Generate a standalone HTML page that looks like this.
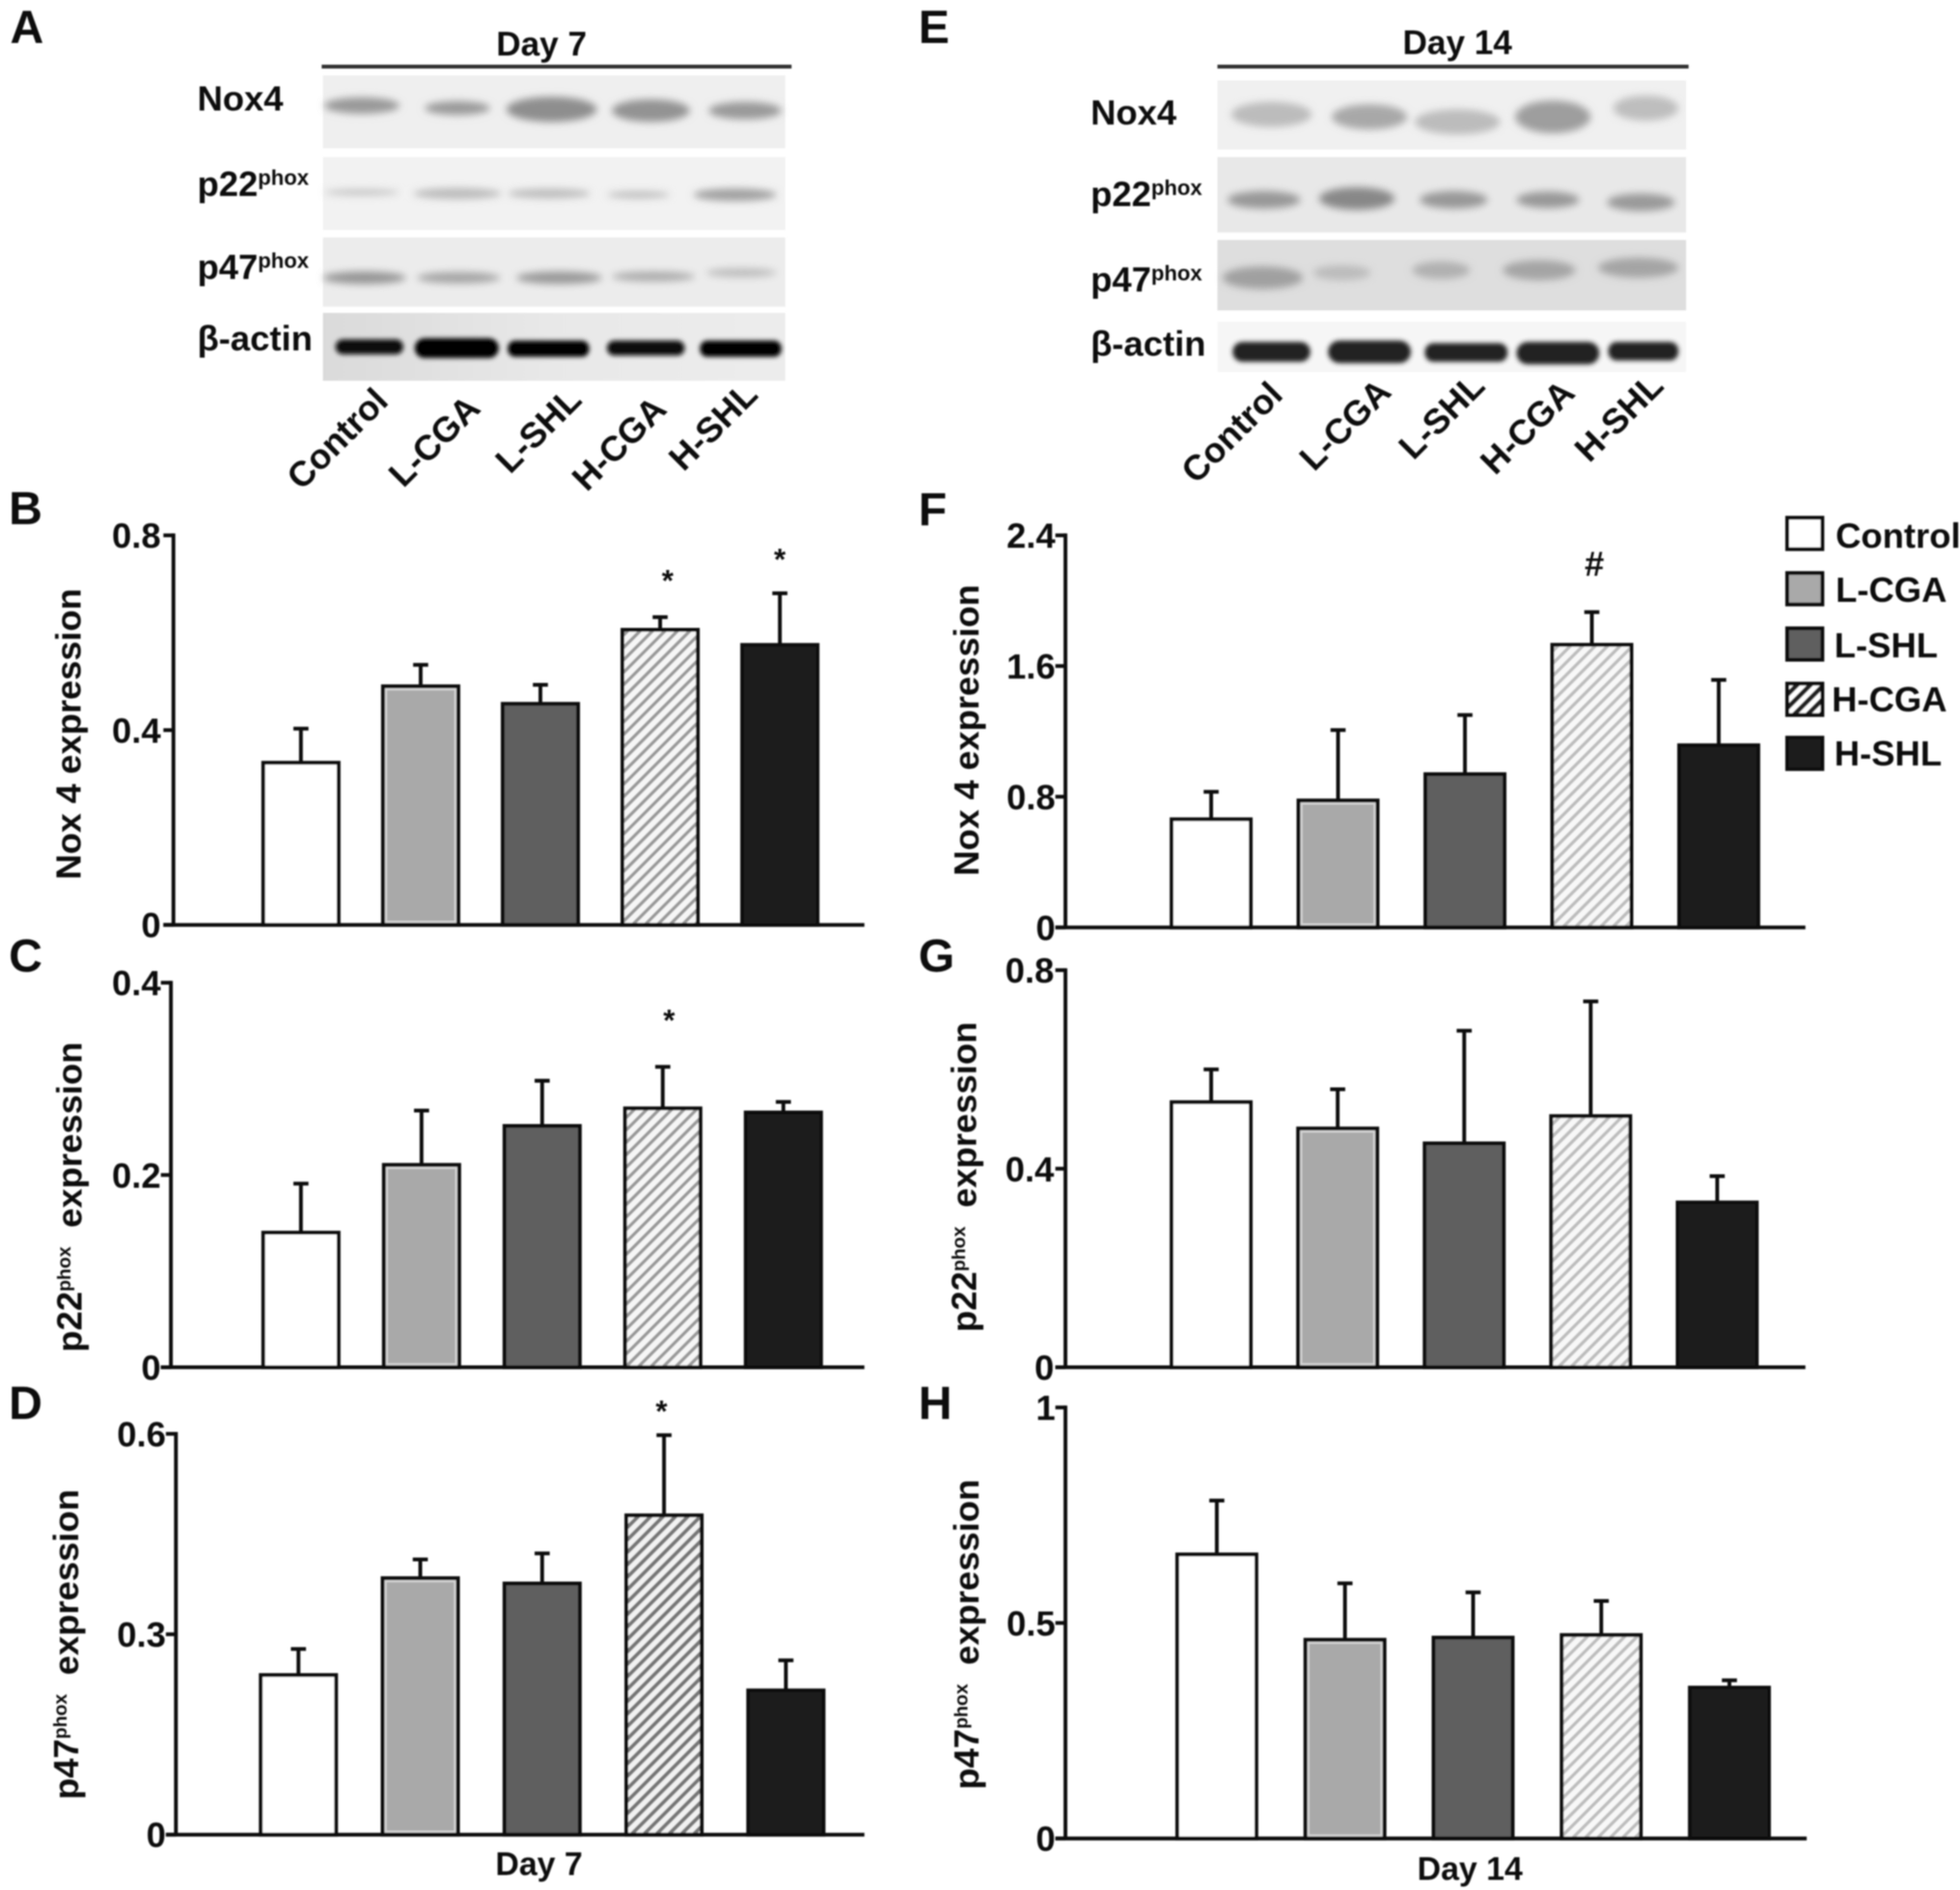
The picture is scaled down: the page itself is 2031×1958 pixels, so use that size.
<!DOCTYPE html>
<html lang="en">
<head>
<meta charset="utf-8">
<title>Nox4, p22phox and p47phox expression</title>
<style>
html,body{margin:0;padding:0;background:#fff;width:2031px;height:1958px;overflow:hidden}
svg{display:block}
text{font-family:"Liberation Sans",Arial,sans-serif;font-weight:700;fill:#111}
</style>
</head>
<body>
<svg id="figure" xmlns="http://www.w3.org/2000/svg" width="2031" height="1958" viewBox="0 0 1560 1504">
<defs>
  <filter id="soft" filterUnits="userSpaceOnUse" x="0" y="0" width="1560" height="1504"><feGaussianBlur stdDeviation="0.55"/></filter>
  <filter id="band" x="-40%" y="-100%" width="180%" height="300%"><feGaussianBlur stdDeviation="3"/></filter>
  <filter id="bandSharp" x="-30%" y="-80%" width="160%" height="260%"><feGaussianBlur stdDeviation="1.8"/></filter>
  <pattern id="hatch" patternUnits="userSpaceOnUse" width="7" height="7" patternTransform="rotate(45)"><rect width="7" height="7" fill="#f6f6f6"/><rect width="2.6" height="7" fill="#9a9a9a"/></pattern>
  <pattern id="hatchLight" patternUnits="userSpaceOnUse" width="7" height="7" patternTransform="rotate(45)"><rect width="7" height="7" fill="#f8f8f8"/><rect width="2.6" height="7" fill="#bdbdbd"/></pattern>
  <pattern id="hatchDark" patternUnits="userSpaceOnUse" width="7" height="7" patternTransform="rotate(45)"><rect width="7" height="7" fill="#f2f2f2"/><rect width="3" height="7" fill="#777"/></pattern>
  <pattern id="hatchLegend" patternUnits="userSpaceOnUse" width="7.5" height="7.5" patternTransform="rotate(45)"><rect width="7.5" height="7.5" fill="#fff"/><rect width="3.6" height="7.5" fill="#222"/></pattern>
  <linearGradient id="actinBg" x1="0" x2="1" y1="0" y2="0"><stop offset="0" stop-color="#dadada"/><stop offset=".5" stop-color="#e8e8e8"/><stop offset="1" stop-color="#ececec"/></linearGradient>
</defs>
<rect width="1560" height="1504" fill="#fff"/>
<g id="root" filter="url(#soft)">

  <g>
    <text x="8" y="34" style="font-size:37px">A</text>
    <text x="731" y="34" style="font-size:37px">E</text>
    <text x="7" y="417" style="font-size:37px">B</text>
    <text x="7" y="773" style="font-size:37px">C</text>
    <text x="7" y="1129" style="font-size:37px">D</text>
    <text x="731" y="418" style="font-size:37px">F</text>
    <text x="731" y="773" style="font-size:37px">G</text>
    <text x="731" y="1129" style="font-size:37px">H</text>
  </g>

  <g>
    <text x="431" y="44" text-anchor="middle" style="font-size:27px">Day 7</text>
    <line x1="256" y1="53" x2="630" y2="53" stroke="#333" stroke-width="3"/>
    <rect x="257" y="60" width="368" height="58" fill="#efefef"/>
    <rect x="257" y="125" width="368" height="58" fill="#f2f2f2"/>
    <rect x="257" y="189" width="368" height="55" fill="#ececec"/>
    <rect x="257" y="249" width="368" height="54" fill="url(#actinBg)"/>
    <g filter="url(#band)">
      <ellipse cx="288" cy="84" rx="30" ry="6.5" fill="#999"/><ellipse cx="364" cy="86" rx="26" ry="5.5" fill="#9a9a9a"/><ellipse cx="439" cy="87" rx="36" ry="10" fill="#8e8e8e"/><ellipse cx="518" cy="88" rx="31" ry="9" fill="#939393"/><ellipse cx="593" cy="88" rx="29" ry="7" fill="#9a9a9a"/>
    </g>
    <g filter="url(#band)">
      <ellipse cx="288" cy="153" rx="30" ry="2.5" fill="#c4c4c4"/><ellipse cx="364" cy="154" rx="35" ry="4.5" fill="#bcbcbc"/><ellipse cx="437" cy="154" rx="33" ry="4" fill="#bebebe"/><ellipse cx="508" cy="155" rx="25" ry="3" fill="#c0c0c0"/><ellipse cx="585" cy="155" rx="33" ry="5" fill="#a0a0a0"/>
    </g>
    <g filter="url(#band)">
      <ellipse cx="290" cy="221" rx="33" ry="5" fill="#959595"/><ellipse cx="365" cy="221" rx="33" ry="4.5" fill="#a4a4a4"/><ellipse cx="445" cy="221" rx="34" ry="5" fill="#999"/><ellipse cx="520" cy="220" rx="33" ry="4" fill="#acacac"/><ellipse cx="590" cy="217" rx="28" ry="3.5" fill="#bcbcbc"/>
    </g>
    <g filter="url(#bandSharp)">
      <rect x="267" y="270" width="54" height="12" rx="6" fill="#0a0a0a"/><rect x="330" y="269" width="67" height="16" rx="8" fill="#000"/><rect x="404" y="271" width="65" height="13" rx="6" fill="#050505"/><rect x="483" y="271" width="62" height="12" rx="6" fill="#0a0a0a"/><rect x="557" y="271" width="65" height="13" rx="6" fill="#050505"/>
    </g>
    <text x="157" y="88" style="font-size:28px">Nox4</text>
    <text x="157" y="156" style="font-size:28px">p22<tspan dy="-9" style="font-size:17px">phox</tspan></text>
    <text x="157" y="222" style="font-size:28px">p47<tspan dy="-9" style="font-size:17px">phox</tspan></text>
    <text x="157" y="279" style="font-size:28px">β-actin</text>
    <text transform="translate(240,391) rotate(-45)" style="font-size:28px">Control</text>
    <text transform="translate(321,389) rotate(-45)" style="font-size:28px">L-CGA</text>
    <text transform="translate(406,378) rotate(-45)" style="font-size:28px">L-SHL</text>
    <text transform="translate(467,392) rotate(-45)" style="font-size:28px">H-CGA</text>
    <text transform="translate(544,376) rotate(-45)" style="font-size:28px">H-SHL</text>
  </g>

  <g>
    <text x="1160" y="43" text-anchor="middle" style="font-size:27px">Day 14</text>
    <line x1="969" y1="53" x2="1344" y2="53" stroke="#333" stroke-width="3"/>
    <rect x="969" y="64" width="373" height="55" fill="#f0f0f0"/>
    <rect x="969" y="125" width="373" height="60" fill="#e8e8e8"/>
    <rect x="969" y="191" width="373" height="56" fill="#dedede"/>
    <rect x="969" y="256" width="373" height="40" fill="#f6f6f6"/>
    <g filter="url(#band)">
      <ellipse cx="1012" cy="91" rx="32" ry="10" fill="#bcbcbc"/><ellipse cx="1090" cy="93" rx="30" ry="10" fill="#a8a8a8"/><ellipse cx="1160" cy="97" rx="34" ry="10" fill="#bcbcbc"/><ellipse cx="1236" cy="93" rx="30" ry="13" fill="#9e9e9e"/><ellipse cx="1310" cy="86" rx="26" ry="10" fill="#bebebe"/>
    </g>
    <g filter="url(#band)">
      <ellipse cx="1006" cy="159" rx="29" ry="7" fill="#989898"/><ellipse cx="1080" cy="158" rx="30" ry="9" fill="#888"/><ellipse cx="1157" cy="159" rx="27" ry="7" fill="#989898"/><ellipse cx="1232" cy="159" rx="25" ry="6.5" fill="#989898"/><ellipse cx="1306" cy="161" rx="27" ry="7" fill="#9a9a9a"/>
    </g>
    <g filter="url(#band)">
      <ellipse cx="1005" cy="221" rx="32" ry="9" fill="#a0a0a0"/><ellipse cx="1068" cy="217" rx="23" ry="6" fill="#bcbcbc"/><ellipse cx="1147" cy="215" rx="23" ry="7" fill="#b0b0b0"/><ellipse cx="1225" cy="215" rx="29" ry="8" fill="#a4a4a4"/><ellipse cx="1304" cy="213" rx="32" ry="8" fill="#a4a4a4"/>
    </g>
    <g filter="url(#bandSharp)">
      <rect x="981" y="272" width="62" height="16" rx="8" fill="#222"/><rect x="1057" y="271" width="66" height="18" rx="9" fill="#222"/><rect x="1134" y="273" width="66" height="15" rx="7" fill="#222"/><rect x="1207" y="272" width="66" height="18" rx="9" fill="#222"/><rect x="1280" y="272" width="56" height="15" rx="7" fill="#222"/>
    </g>
    <text x="868" y="99" style="font-size:28px">Nox4</text>
    <text x="868" y="164" style="font-size:28px">p22<tspan dy="-9" style="font-size:17px">phox</tspan></text>
    <text x="868" y="232" style="font-size:28px">p47<tspan dy="-9" style="font-size:17px">phox</tspan></text>
    <text x="868" y="283" style="font-size:28px">β-actin</text>
    <text transform="translate(952,386) rotate(-45)" style="font-size:28px">Control</text>
    <text transform="translate(1046,376) rotate(-45)" style="font-size:28px">L-CGA</text>
    <text transform="translate(1125,367) rotate(-45)" style="font-size:28px">L-SHL</text>
    <text transform="translate(1190,379) rotate(-45)" style="font-size:28px">H-CGA</text>
    <text transform="translate(1265,369) rotate(-45)" style="font-size:28px">H-SHL</text>
  </g>

  <g id="charts"></g>

  <text x="429" y="1492" text-anchor="middle" style="font-size:26px">Day 7</text>
  <text x="1170" y="1496" text-anchor="middle" style="font-size:26px">Day 14</text>

  <g>
    <g>
      <rect x="1422.5" y="412" width="28" height="25" fill="#fff" stroke="#111" stroke-width="3"/>
      <text x="1461" y="436" style="font-size:28px">Control</text>
    </g>
    <g>
      <rect x="1422.5" y="456" width="28" height="25" fill="#a9a9a9" stroke="#111" stroke-width="3"/>
      <text x="1461" y="479" style="font-size:28px">L-CGA</text>
    </g>
    <g>
      <rect x="1422.5" y="500" width="28" height="25" fill="#5f5f5f" stroke="#111" stroke-width="3"/>
      <text x="1460" y="523" style="font-size:28px">L-SHL</text>
    </g>
    <g>
      <rect x="1422.5" y="544" width="28" height="25" fill="url(#hatchLegend)" stroke="#111" stroke-width="3"/>
      <text x="1458" y="566" style="font-size:28px">H-CGA</text>
    </g>
    <g>
      <rect x="1422.5" y="587" width="28" height="25" fill="#1c1c1c" stroke="#111" stroke-width="3"/>
      <text x="1460" y="609" style="font-size:28px">H-SHL</text>
    </g>
  </g>
</g>
</svg>
<script>
const categories = ['Control', 'L-CGA', 'L-SHL', 'H-CGA', 'H-SHL'];

const panelBValues = [0.333, 0.490, 0.454, 0.606, 0.575];
const panelBUpper = [0.403, 0.534, 0.493, 0.632, 0.681];
const panelBTicks = [0, 0.4, 0.8];
const panelBTickLabels = ['0', '0.4', '0.8'];

const panelCValues = [0.140, 0.2105, 0.251, 0.2693, 0.265];
const panelCUpper = [0.191, 0.267, 0.298, 0.3125, 0.276];
const panelCTicks = [0, 0.2, 0.4];
const panelCTickLabels = ['0', '0.2', '0.4'];

const panelDValues = [0.239, 0.384, 0.376, 0.478, 0.216];
const panelDUpper = [0.278, 0.412, 0.421, 0.598, 0.261];
const panelDTicks = [0, 0.3, 0.6];
const panelDTickLabels = ['0', '0.3', '0.6'];

const panelFValues = [0.662, 0.777, 0.938, 1.73, 1.115];
const panelFUpper = [0.83, 1.208, 1.30, 1.93, 1.515];
const panelFTicks = [0, 0.8, 1.6, 2.4];
const panelFTickLabels = ['0', '0.8', '1.6', '2.4'];

const panelGValues = [0.534, 0.481, 0.451, 0.506, 0.332];
const panelGUpper = [0.60, 0.56, 0.678, 0.737, 0.385];
const panelGTicks = [0, 0.4, 0.8];
const panelGTickLabels = ['0', '0.4', '0.8'];

const panelHValues = [0.659, 0.461, 0.466, 0.472, 0.35];
const panelHUpper = [0.784, 0.592, 0.571, 0.551, 0.367];
const panelHTicks = [0, 0.5, 1];
const panelHTickLabels = ['0', '0.5', '1'];

const NS = 'http://www.w3.org/2000/svg';
const chartsRoot = document.getElementById('charts');
const barFills = ['#ffffff', '#a9a9a9', '#5f5f5f', 'url(#hatch)', '#1c1c1c'];
const slugs = ['control', 'l-cga', 'l-shl', 'h-cga', 'h-shl'];

function make(tag, attrs, parent) {
  const el = document.createElementNS(NS, tag);
  for (const k in attrs) el.setAttribute(k, attrs[k]);
  parent.appendChild(el);
  return el;
}

function drawPanel(cfg) {
  const g = make('g', {}, chartsRoot);
  
  
  const y = v => cfg.base - (v / cfg.ticks[cfg.ticks.length - 1]) * (cfg.base - cfg.top);
  const x = i => cfg.first + i * cfg.step;

  cfg.values.forEach((v, i) => {
    const cx = x(i);
    const up = make('line', {x1: cx, x2: cx, y1: y(v), y2: y(cfg.upper[i]), stroke: '#111', 'stroke-width': 3}, g);
    
    
    const cap = make('line', {x1: cx - 6, x2: cx + 6, y1: y(cfg.upper[i]), y2: y(cfg.upper[i]), stroke: '#111', 'stroke-width': 3}, g);
    
    
    const fill = i === 3 ? cfg.hatch : barFills[i];
    const bar = make('rect', {x: cx - cfg.width / 2, y: y(v), width: cfg.width, height: cfg.base - y(v), fill: fill, stroke: '#111', 'stroke-width': 3}, g);
    
    
    if (i === 1) {
      const inner = make('rect', {x: cx - cfg.width / 2 + 2.5, y: y(v) + 2.5, width: cfg.width - 5, height: cfg.base - y(v) - 5, fill: 'none', stroke: '#d6d6d6', 'stroke-width': 1.5}, g);
      
      
    }
  });

  const yAxis = make('line', {x1: cfg.axisX, x2: cfg.axisX, y1: cfg.top - 1.5, y2: cfg.base, stroke: '#111', 'stroke-width': 3}, g);
  
  
  const xAxis = make('line', {x1: cfg.axisX - 8, x2: cfg.xEnd, y1: cfg.base, y2: cfg.base, stroke: '#111', 'stroke-width': 3}, g);
  
  

  cfg.ticks.forEach((t, i) => {
    const mark = make('line', {x1: cfg.axisX - 8, x2: cfg.axisX, y1: y(t), y2: y(t), stroke: '#111', 'stroke-width': 3}, g);
    
    
    const lab = make('text', {x: cfg.axisX - cfg.labelGap, y: y(t) + 10, 'text-anchor': 'end', style: 'font-size:28px'}, g);
    lab.textContent = cfg.tickLabels[i];
    
    
  });

  const title = make('text', {transform: 'translate(' + cfg.titleX + ',' + cfg.titleY + ') rotate(-90)', style: 'font-size:28px'}, g);
  
  
  const a = make('tspan', {}, title);
  a.textContent = cfg.title[0];
  if (cfg.title.length > 1) {
    const b = make('tspan', {dy: -9, style: 'font-size:15px'}, title);
    b.textContent = cfg.title[1];
    const c = make('tspan', {dy: 9, dx: 15}, title);
    c.textContent = cfg.title[2];
  }

  cfg.marks.forEach(m => {
    const s = make('text', {x: x(m.index) + (m.dx || 0), y: y(cfg.upper[m.index]) - m.gap, 'text-anchor': 'middle', style: 'font-size:' + m.size + 'px'}, g);
    s.textContent = m.text;
    
    
  });
}

drawPanel({id: 'b', values: panelBValues, upper: panelBUpper, ticks: panelBTicks, tickLabels: panelBTickLabels, hatch: 'url(#hatch)', labelGap: 10,
  axisX: 138, top: 426, base: 736, xEnd: 688, first: 239.5, step: 95.3, width: 60,
  title: ['Nox 4 expression'], titleX: 64, titleY: 700,
  marks: [{index: 3, text: '*', size: 24, gap: 21, dx: 6}, {index: 4, text: '*', size: 24, gap: 19}]});
drawPanel({id: 'c', values: panelCValues, upper: panelCUpper, ticks: panelCTicks, tickLabels: panelCTickLabels, hatch: 'url(#hatch)', labelGap: 8,
  axisX: 136, top: 782, base: 1088, xEnd: 688, first: 239.5, step: 96, width: 60,
  title: ['p22', 'phox', 'expression'], titleX: 65, titleY: 1076,
  marks: [{index: 3, text: '*', size: 24, gap: 29, dx: 5}]});
drawPanel({id: 'd', values: panelDValues, upper: panelDUpper, ticks: panelDTicks, tickLabels: panelDTickLabels, hatch: 'url(#hatchDark)', labelGap: 8,
  axisX: 140, top: 1141, base: 1460, xEnd: 688, first: 237.5, step: 97, width: 60,
  title: ['p47', 'phox', 'expression'], titleX: 62, titleY: 1432,
  marks: [{index: 3, text: '*', size: 24, gap: 11, dx: -2}]});
drawPanel({id: 'f', values: panelFValues, upper: panelFUpper, ticks: panelFTicks, tickLabels: panelFTickLabels, hatch: 'url(#hatchLight)', labelGap: 8,
  axisX: 848, top: 426, base: 738, xEnd: 1437, first: 964, step: 101, width: 63,
  title: ['Nox 4 expression'], titleX: 779, titleY: 697,
  marks: [{index: 3, text: '#', size: 28, gap: 29, dx: 2}]});
drawPanel({id: 'g', values: panelGValues, upper: panelGUpper, ticks: panelGTicks, tickLabels: panelGTickLabels, hatch: 'url(#hatchLight)', labelGap: 9,
  axisX: 848, top: 772, base: 1088, xEnd: 1437, first: 964, step: 100.7, width: 63,
  title: ['p22', 'phox', 'expression'], titleX: 777, titleY: 1060, marks: []});
drawPanel({id: 'h', values: panelHValues, upper: panelHUpper, ticks: panelHTicks, tickLabels: panelHTickLabels, hatch: 'url(#hatchLight)', labelGap: 8,
  axisX: 848, top: 1120, base: 1463, xEnd: 1438, first: 968.5, step: 102, width: 63,
  title: ['p47', 'phox', 'expression'], titleX: 779, titleY: 1424, marks: []});
</script>
</body>
</html>
